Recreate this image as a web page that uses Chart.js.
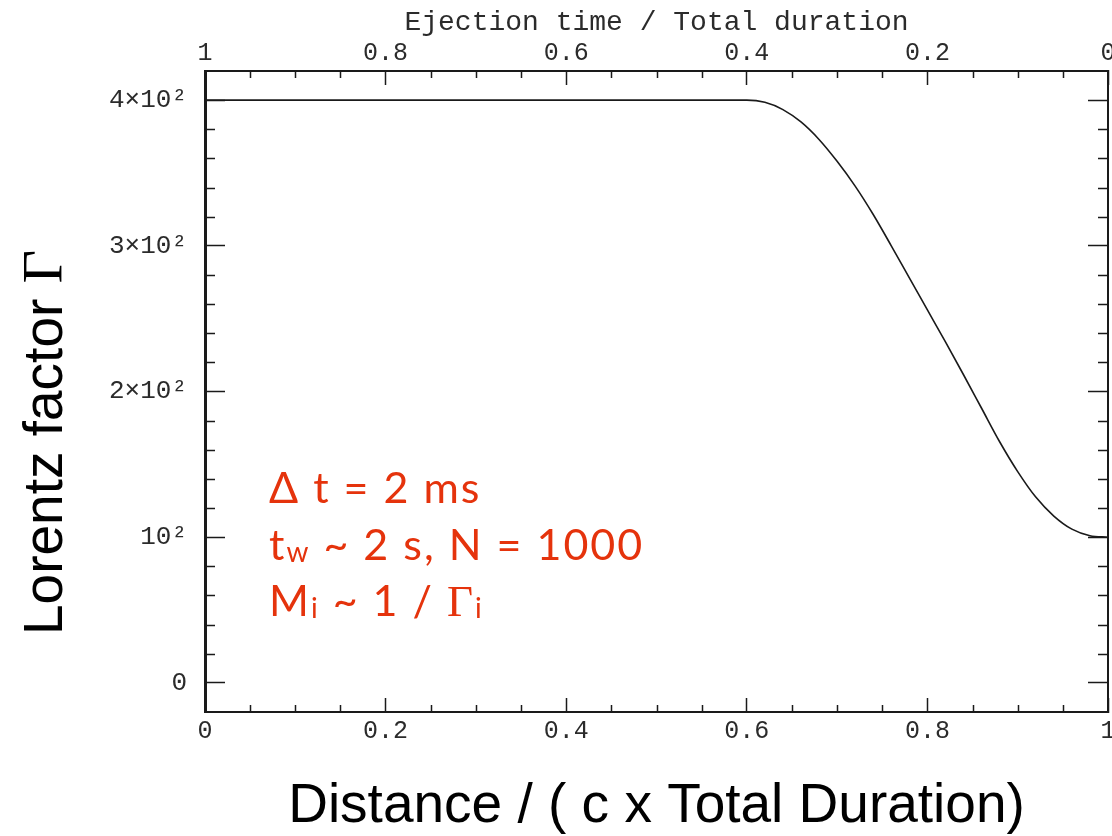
<!DOCTYPE html>
<html><head><meta charset="utf-8">
<script src="https://cdn.jsdelivr.net/npm/chart.js@4.4.1/dist/chart.umd.min.js"></script>
<style>html,body{margin:0;padding:0;background:#fff;}#wrap{width:1112px;height:836px;position:relative;}</style>
</head><body><div id="wrap"><canvas id="c" width="1112" height="836"></canvas></div>
<script>
// ---- data ----
const distance = [0, 0.50, 0.60, 0.62, 0.64, 0.66, 0.68, 0.70, 0.72, 0.74, 0.76, 0.78, 0.80, 0.82, 0.84, 0.86, 0.88, 0.90, 0.92, 0.94, 0.96, 0.98, 1.0];
const gamma    = [400, 400, 400, 398.5, 393.5, 385, 373, 358, 341, 321.5, 300, 278, 256, 234, 211.5, 188.5, 165.5, 145, 127.5, 114.5, 105.5, 101, 100];

const xTicks = [0, 0.2, 0.4, 0.6, 0.8, 1];
const xTickLabels = ['0', '0.2', '0.4', '0.6', '0.8', '1'];
const topTicks = [1, 0.8, 0.6, 0.4, 0.2, 0];
const topTickLabels = ['1', '0.8', '0.6', '0.4', '0.2', '0'];
const yTicks = [0, 100, 200, 300, 400];
const yTickLabels = ['0', '10²', '2×10²', '3×10²', '4×10²'];
const xMinor = [0.05,0.1,0.15,0.25,0.3,0.35,0.45,0.5,0.55,0.65,0.7,0.75,0.85,0.9,0.95];
const yMinor = [20,40,60,80,120,140,160,180,220,240,260,280,320,340,360,380];

const xTitle = 'Distance / ( c x Total Duration)';
const topTitle = 'Ejection time / Total duration';
const yTitleText = 'Lorentz factor ';
const yTitleSymbol = 'Γ';
const noteLines = [
  [['Δ t = 2 ms', 'n']],
  [['t', 'n'], ['w', 's'], [' ~ 2 s, N = 1000', 'n']],
  [['M', 'n'], ['i', 's'], [' ~ 1 / ', 'n'], ['Γ', 'g'], ['i', 's']]
];

// ---- styles ----
const INK = '#1a1a1a';
const LABEL = '#2b2b2b';
const RED = '#e5330c';
const monoFont = {family: '"Liberation Mono", "DejaVu Sans Mono", monospace', size: 25, lineHeight: 1.2};
const yMonoFont = {family: '"Liberation Mono", "DejaVu Sans Mono", monospace', size: 26, lineHeight: 1.2};

const points = distance.map((d, i) => ({x: d, y: gamma[i]}));

function setTicks(values) { return s => { s.ticks = values.map(v => ({value: v})); }; }
function labelFrom(values, labels) { return v => { const i = values.findIndex(t => Math.abs(t - v) < 1e-9); return i >= 0 ? labels[i] : ''; }; }
function fixSize(prop, size) { return s => { s[prop] = size; s.paddingLeft = 0; s.paddingRight = 0; s.paddingTop = 0; s.paddingBottom = 0; }; }

const minorTickPlugin = {
  id: 'minorTicks',
  afterDatasetsDraw(chart) {
    const {ctx, chartArea: a, scales} = chart;
    ctx.save();
    ctx.strokeStyle = INK; ctx.lineWidth = 1.5;
    ctx.beginPath();
    xMinor.forEach(v => {
      const pb = Math.round(scales.x.getPixelForValue(v)) + 0.5;
      ctx.moveTo(pb, a.bottom); ctx.lineTo(pb, a.bottom - 7);
      const pt = Math.round(scales.x2.getPixelForValue(v)) + 0.5;
      ctx.moveTo(pt, a.top); ctx.lineTo(pt, a.top + 7);
    });
    yMinor.forEach(v => {
      const pl = Math.round(scales.y.getPixelForValue(v)) + 0.5;
      ctx.moveTo(a.left, pl); ctx.lineTo(a.left + 10, pl);
      const pr = Math.round(scales.y2.getPixelForValue(v)) + 0.5;
      ctx.moveTo(a.right, pr); ctx.lineTo(a.right - 10, pr);
    });
    ctx.stroke();
    ctx.restore();
  }
};

const textPlugin = {
  id: 'texts',
  afterDraw(chart) {
    const {ctx} = chart;
    // y axis title, rotated
    ctx.save();
    ctx.translate(62, 635);
    ctx.rotate(-Math.PI / 2);
    ctx.fillStyle = '#000';
    ctx.textBaseline = 'alphabetic';
    ctx.textAlign = 'left';
    ctx.font = '55px "Liberation Sans", Arial, sans-serif';
    ctx.fillText(yTitleText, 0, 0);
    const w = ctx.measureText(yTitleText).width;
    ctx.font = '58px "Liberation Serif", "Times New Roman", serif';
    ctx.fillText(yTitleSymbol, w, 0);
    ctx.restore();

    // red annotation
    ctx.save();
    ctx.fillStyle = RED;
    ctx.textBaseline = 'alphabetic';
    ctx.textAlign = 'left';
    try { ctx.letterSpacing = '2px'; } catch (e) {}
    const baselines = [503, 560, 616];
    noteLines.forEach((parts, li) => {
      let x = 269;
      parts.forEach(([txt, kind]) => {
        if (kind === 'n') ctx.font = '43px Lato, "Open Sans", sans-serif';
        else if (kind === 's') ctx.font = '28px Lato, "Open Sans", sans-serif';
        else ctx.font = '45px "Liberation Serif", serif';
        ctx.fillText(txt, x, baselines[li] + (kind === 's' ? 2 : 0));
        x += ctx.measureText(txt).width;
      });
    });
    ctx.restore();
  }
};

new Chart(document.getElementById('c'), {
  type: 'line',
  data: {
    datasets: [{
      data: points,
      xAxisID: 'x', yAxisID: 'y',
      borderColor: INK, borderWidth: 1.6,
      pointRadius: 0, fill: false,
      cubicInterpolationMode: 'monotone'
    }]
  },
  options: {
    responsive: false, animation: false, devicePixelRatio: 1,
    layout: {padding: 0},
    plugins: {legend: {display: false}, tooltip: {enabled: false}},
    scales: {
      x: {
        type: 'linear', position: 'bottom', min: 0, max: 1,
        afterBuildTicks: setTicks(xTicks),
        afterFit: fixSize('height', 124),
        grid: {drawOnChartArea: false, drawTicks: true, tickLength: -14, tickColor: INK, tickWidth: 1.5},
        border: {display: true, color: INK, width: 2},
        ticks: {callback: labelFrom(xTicks, xTickLabels), color: LABEL, font: monoFont, padding: 18, maxRotation: 0, autoSkip: false},
        title: {display: true, text: xTitle, color: '#000', font: {family: '"Liberation Sans", Arial, sans-serif', size: 55, lineHeight: 1.05}, padding: 0}
      },
      x2: {
        type: 'linear', position: 'top', min: 0, max: 1, reverse: true,
        afterBuildTicks: setTicks(topTicks),
        afterFit: fixSize('height', 71),
        grid: {drawOnChartArea: false, drawTicks: true, tickLength: -14, tickColor: INK, tickWidth: 1.5},
        border: {display: true, color: INK, width: 2},
        ticks: {callback: labelFrom(topTicks, topTickLabels), color: LABEL, font: monoFont, padding: 17, maxRotation: 0, autoSkip: false},
        title: {display: true, text: topTitle, color: LABEL, font: {family: '"Liberation Mono", "DejaVu Sans Mono", monospace', size: 28, lineHeight: 1.2}, padding: {top: 6, bottom: 0}}
      },
      y: {
        type: 'linear', position: 'left', min: -20, max: 420,
        afterBuildTicks: setTicks(yTicks),
        afterFit: fixSize('width', 205),
        grid: {drawOnChartArea: false, drawTicks: true, tickLength: -20, tickColor: INK, tickWidth: 1.5},
        border: {display: true, color: INK, width: 3},
        ticks: {callback: labelFrom(yTicks, yTickLabels), color: LABEL, font: yMonoFont, padding: 38}
      },
      y2: {
        type: 'linear', position: 'right', min: -20, max: 420,
        afterBuildTicks: setTicks(yTicks),
        afterFit: fixSize('width', 4),
        grid: {drawOnChartArea: false, drawTicks: true, tickLength: -20, tickColor: INK, tickWidth: 1.5},
        border: {display: true, color: INK, width: 2},
        ticks: {display: false}
      }
    }
  },
  plugins: [minorTickPlugin, textPlugin]
});
</script>
</body></html>
